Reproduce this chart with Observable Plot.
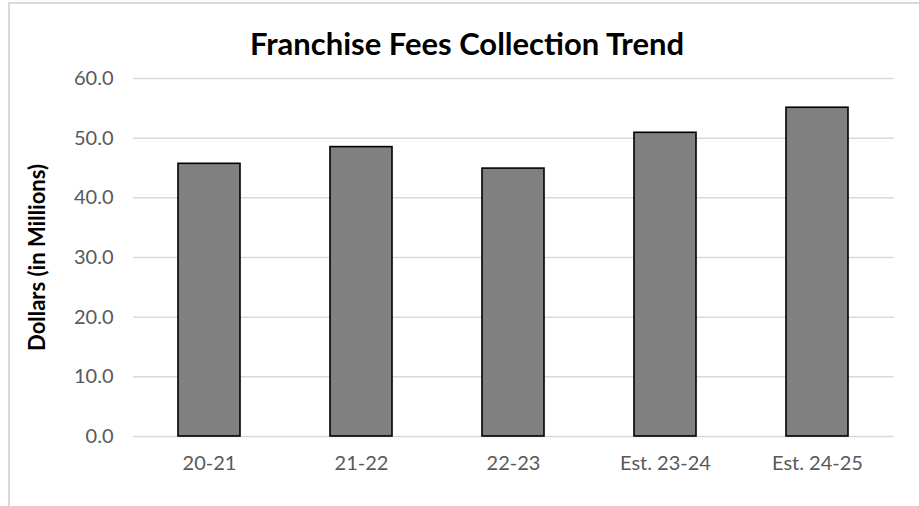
<!DOCTYPE html>
<html>
<head>
<meta charset="utf-8">
<script src="https://cdn.jsdelivr.net/npm/d3@7"></script>
<script src="https://cdn.jsdelivr.net/npm/@observablehq/plot@0.6"></script>
<style>
  html, body { margin: 0; padding: 0; background: #fff; }
  #wrap { position: relative; width: 919px; height: 506px; overflow: hidden; }
  #frame { position: absolute; left: 8px; top: 2px; width: 1000px; height: 600px;
           border-left: 2px solid #d9d9d9; border-top: 2px solid #d9d9d9; box-sizing: border-box; }
  #chart { position: absolute; left: 0; top: 0; }
</style>
</head>
<body>
<div id="wrap"><div id="frame"></div><div id="chart"></div></div>
<script>
const categories = ["20-21", "21-22", "22-23", "Est. 23-24", "Est. 24-25"];
const values = [45.7, 48.5, 44.9, 50.9, 55.1];
const yTicks = [0, 10, 20, 30, 40, 50, 60];
const title = "Franchise Fees Collection Trend";
const yLabel = "Dollars (in Millions)";

const data = categories.map((c, i) => ({category: c, value: values[i]}));
const font = "Lato, 'Open Sans', sans-serif";

const chart = Plot.plot({
  width: 919,
  height: 506,
  marginLeft: 133,
  marginRight: 25,
  marginTop: 78,
  marginBottom: 70,
  style: {fontFamily: font, fontSize: "20px", background: "transparent", color: "#595959"},
  x: {domain: categories, paddingInner: 0.59, paddingOuter: 0.295, label: null},
  y: {domain: [0, 60], label: null},
  marks: [
    Plot.ruleY(yTicks, {stroke: "#d9d9d9", strokeWidth: 1.5}),
    Plot.axisY({ticks: yTicks, tickFormat: d => d.toFixed(1), tickSize: 0, tickPadding: 20, fontSize: 20, fill: "#595959", label: null}),
    Plot.axisX({tickSize: 0, tickPadding: 19, fontSize: 20, fill: "#595959", label: null}),
    Plot.barY(data, {x: "category", y: "value", fill: "#808080", stroke: "#000", strokeWidth: 1.6}),
    Plot.text([title], {frameAnchor: "top", lineAnchor: "middle", dx: -47, dy: -33, fontSize: 31, fontWeight: "bold", fill: "#000"}),
    Plot.text([yLabel], {frameAnchor: "left", textAnchor: "middle", rotate: -90, dx: -96, fontSize: 22, fontWeight: "bold", fill: "#000"})
  ]
});
document.getElementById("chart").appendChild(chart);
</script>
</body>
</html>
